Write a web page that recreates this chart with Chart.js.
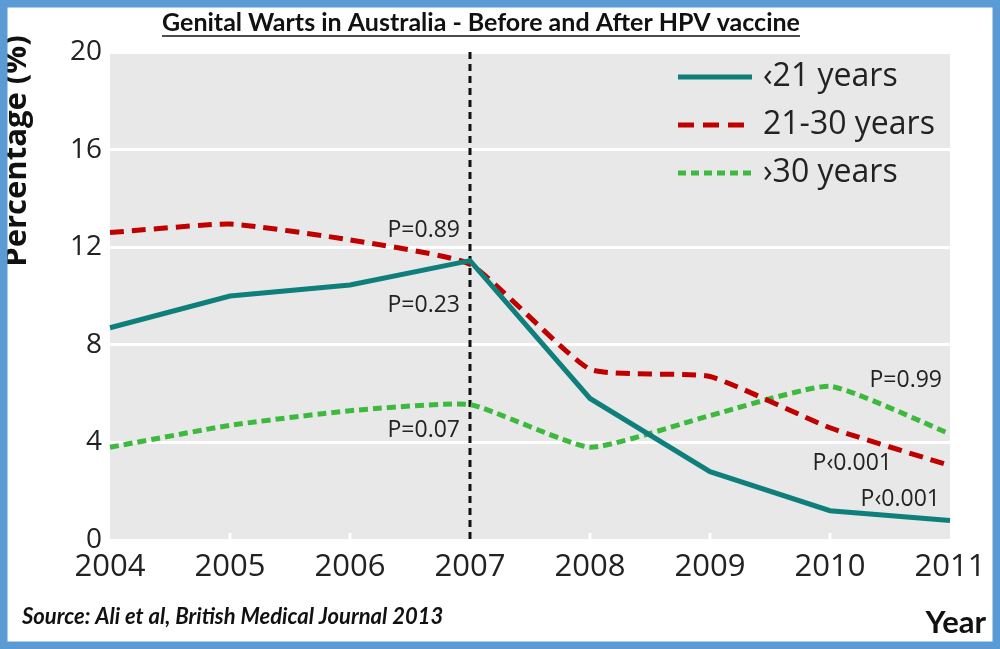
<!DOCTYPE html>
<html>
<head>
<meta charset="utf-8">
<script src="https://cdn.jsdelivr.net/npm/chart.js@4.4.0/dist/chart.umd.min.js"></script>
<style>
  html, body { margin: 0; padding: 0; background: #fff; }
  #wrap { width: 1000px; height: 649px; }
</style>
</head>
<body>
<div id="wrap"><canvas id="wartsChart" width="1000" height="649"></canvas></div>
<script>
// Data
const years = ['2004', '2005', '2006', '2007', '2008', '2009', '2010', '2011'];
const under21 = [8.7, 10.0, 10.45, 11.45, 5.8, 2.8, 1.2, 0.8];
const age21to30 = [12.6, 12.95, 12.3, 11.3, 7.0, 6.7, 4.6, 3.05];
const over30 = [3.8, 4.7, 5.3, 5.55, 3.8, 5.1, 6.3, 4.35];
const seriesNames = ['‹21 years', '21-30 years', '›30 years'];
const yTicks = [0, 4, 8, 12, 16, 20];
const vaccineYear = '2007';

// P value notes: text, anchor year, value, pixel shift of right edge
const pNotes = [
  { text: 'P=0.89', year: '2007', value: 12.7, dx: -10 },
  { text: 'P=0.23', year: '2007', value: 9.6, dx: -10 },
  { text: 'P=0.07', year: '2007', value: 4.5, dx: -10 },
  { text: 'P=0.99', year: '2011', value: 6.55, dx: -8 },
  { text: 'P‹0.001', year: '2011', value: 3.15, dx: -58 },
  { text: 'P‹0.001', year: '2011', value: 1.65, dx: -10 }
];

const TEAL = '#0f7f7c';
const RED = '#c00000';
const GREEN = '#3dba3d';
const BASE_FONT = '"Open Sans", "DejaVu Sans", sans-serif';
const TITLE_FONT = 'Lato, "Open Sans", sans-serif';

const decor = {
  id: 'decor',
  beforeDraw(chart) {
    const { ctx, chartArea: a } = chart;
    ctx.save();
    ctx.fillStyle = '#fff';
    ctx.fillRect(0, 0, chart.width, chart.height);
    ctx.fillStyle = '#e8e8e8';
    ctx.fillRect(a.left, a.top, a.right - a.left, a.bottom - a.top);
    ctx.restore();
  },
  beforeDatasetsDraw(chart) {
    const { ctx, chartArea: a, scales } = chart;
    ctx.save();
    // small white ticks on the bottom edge
    ctx.strokeStyle = '#fff';
    ctx.lineWidth = 3;
    years.forEach((y, i) => {
      if (i === 0 || i === years.length - 1) return;
      const x = scales.x.getPixelForValue(i);
      ctx.beginPath();
      ctx.moveTo(x, a.bottom);
      ctx.lineTo(x, a.bottom - 7);
      ctx.stroke();
    });
    // vaccine introduction line
    const vx = scales.x.getPixelForValue(years.indexOf(vaccineYear));
    ctx.strokeStyle = '#111';
    ctx.lineWidth = 3;
    ctx.setLineDash([7, 5]);
    ctx.beginPath();
    ctx.moveTo(vx, a.top);
    ctx.lineTo(vx, a.bottom);
    ctx.stroke();
    ctx.restore();
  },
  afterDraw(chart) {
    const { ctx, scales } = chart;
    ctx.save();

    // P values
    ctx.fillStyle = '#222';
    ctx.font = '23px ' + BASE_FONT;
    ctx.textAlign = 'right';
    ctx.textBaseline = 'middle';
    pNotes.forEach(n => {
      const x = scales.x.getPixelForValue(years.indexOf(n.year)) + n.dx;
      const y = scales.y.getPixelForValue(n.value);
      ctx.fillText(n.text, x, y);
    });

    // legend inside the plot
    const styles = [
      { color: TEAL, dash: [] },
      { color: RED, dash: [16, 9] },
      { color: GREEN, dash: [8, 5] }
    ];
    const lx0 = 678, lx1 = 752;
    ctx.textAlign = 'left';
    ctx.font = '32px ' + BASE_FONT;
    seriesNames.forEach((name, i) => {
      const y = 77 + i * 48;
      ctx.strokeStyle = styles[i].color;
      ctx.lineWidth = 5;
      ctx.setLineDash(styles[i].dash);
      ctx.beginPath();
      ctx.moveTo(lx0, y);
      ctx.lineTo(lx1, y);
      ctx.stroke();
      ctx.fillStyle = '#222';
      ctx.fillText(name, 763, y);
    });
    ctx.setLineDash([]);

    // title, underlined
    ctx.fillStyle = '#111';
    ctx.font = 'bold 25px ' + TITLE_FONT;
    ctx.textAlign = 'center';
    ctx.textBaseline = 'alphabetic';
    const title = 'Genital Warts in Australia - Before and After HPV vaccine';
    ctx.fillText(title, 481, 31);
    const tw = ctx.measureText(title).width;
    ctx.strokeStyle = '#111';
    ctx.lineWidth = 1.5;
    ctx.beginPath();
    ctx.moveTo(481 - tw / 2, 36);
    ctx.lineTo(481 + tw / 2, 36);
    ctx.stroke();

    // y axis title (clipped by the frame in the original)
    ctx.save();
    ctx.translate(26, 151);
    ctx.rotate(-Math.PI / 2);
    ctx.font = 'bold 31px ' + BASE_FONT;
    ctx.fillText('Percentage (%)', 0, 0);
    ctx.restore();

    // source + x axis title
    ctx.textAlign = 'left';
    ctx.font = 'italic bold 22px ' + TITLE_FONT;
    ctx.fillText('Source: Ali et al, British Medical Journal 2013', 22, 624);
    ctx.textAlign = 'right';
    ctx.font = 'bold 31px ' + TITLE_FONT;
    ctx.fillText('Year', 986, 633);

    // blue frame
    ctx.strokeStyle = '#5b9bd5';
    ctx.lineWidth = 15;
    ctx.strokeRect(0, 0, chart.width, chart.height);
    ctx.restore();
  }
};

new Chart(document.getElementById('wartsChart').getContext('2d'), {
  type: 'line',
  data: {
    labels: years,
    datasets: [
      { label: seriesNames[0], data: under21, borderColor: TEAL, borderWidth: 5, pointRadius: 0, tension: 0 },
      { label: seriesNames[1], data: age21to30, borderColor: RED, borderWidth: 5, borderDash: [14, 8], pointRadius: 0, tension: 0.15 },
      { label: seriesNames[2], data: over30, borderColor: GREEN, borderWidth: 5, borderDash: [9, 5], pointRadius: 0, tension: 0.15 }
    ]
  },
  options: {
    responsive: false,
    animation: false,
    layout: { padding: { top: 52, right: 50, left: 0, bottom: 0 } },
    plugins: { legend: { display: false }, tooltip: { enabled: false }, title: { display: false } },
    scales: {
      x: {
        offset: false,
        grid: { display: false },
        border: { display: false },
        ticks: { color: '#222', font: { family: BASE_FONT, size: 31 }, padding: 1, maxRotation: 0, autoSkip: false },
        afterFit(scale) { scale.height = 109; }
      },
      y: {
        min: 0,
        max: 20,
        afterBuildTicks(scale) { scale.ticks = yTicks.map(v => ({ value: v })); },
        grid: { color: '#ffffff', lineWidth: 3, drawTicks: false },
        border: { display: false },
        ticks: { color: '#222', font: { family: BASE_FONT, size: 28 }, padding: 8 },
        afterFit(scale) { scale.width = 110; }
      }
    }
  },
  plugins: [decor]
});
</script>
</body>
</html>
